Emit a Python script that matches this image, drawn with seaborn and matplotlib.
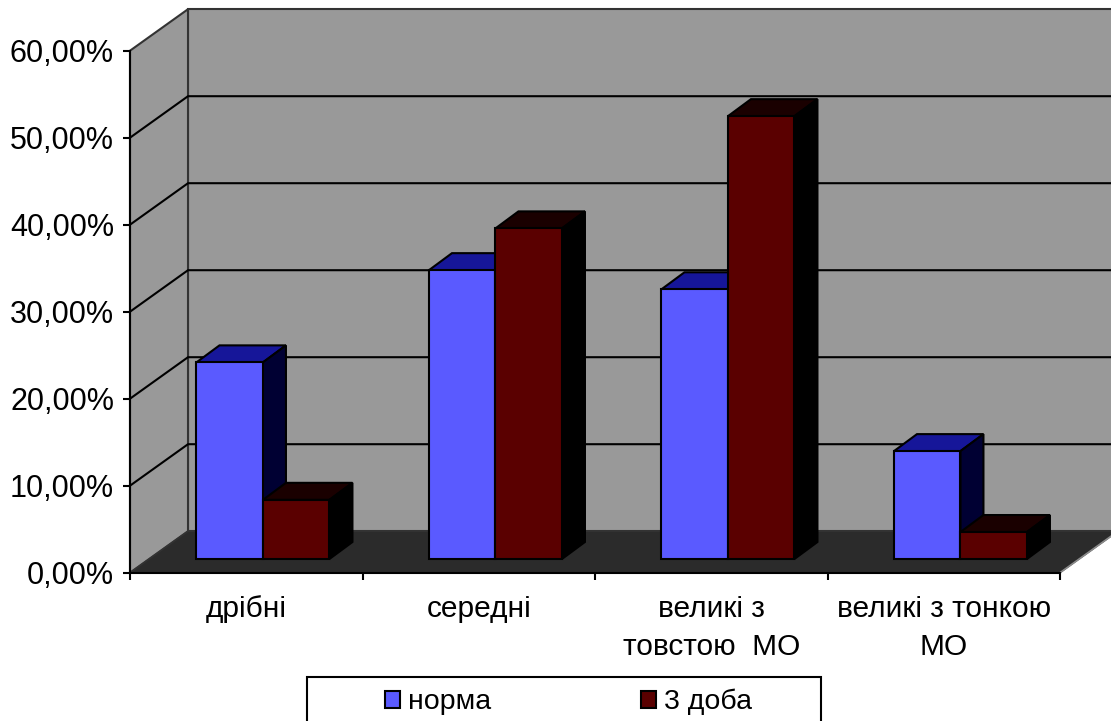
import matplotlib
matplotlib.use("Agg")
import matplotlib.pyplot as plt
from matplotlib.patches import Polygon, Rectangle
import pandas as pd
import seaborn as sns

categories = ["дрібні", "середні", "великі з\nтовстою  МО", "великі з тонкою\nМО"]
norma = [22.6, 33.2, 31.0, 12.4]
doba3 = [6.8, 38.0, 50.9, 3.1]
series_names = ["норма", "3 доба"]
y_ticks = [0, 10, 20, 30, 40, 50, 60]
y_tick_labels = ["0,00%", "10,00%", "20,00%", "30,00%", "40,00%", "50,00%", "60,00%"]

front_colors = ["#5a5aff", "#5a0000"]
top_colors = ["#161699", "#1a0000"]
side_colors = ["#000033", "#000000"]

sns.set_style("white")
plt.rcParams["font.family"] = ["Liberation Sans", "DejaVu Sans"]

W, H = 1111, 721
LINE = 1.5
fig = plt.figure(figsize=(W / 100, H / 100), dpi=100, facecolor="white")
ax = fig.add_axes([130 / W, 1 - 572.7 / H, 930 / W, 522 / H])

table = pd.DataFrame({
    "category": categories * 2,
    "series": [series_names[0]] * 4 + [series_names[1]] * 4,
    "value": norma + doba3,
})
sns.barplot(data=table, x="category", y="value", hue="series", palette=front_colors,
            saturation=1, width=0.572, gap=0, edgecolor="black", linewidth=LINE,
            legend=False, ax=ax, zorder=10)

ax.set_xlim(-0.5, 3.5)
ax.set_ylim(0, 60)
ax.set_xlabel("")
ax.set_ylabel("")

# Oblique projection: wall depth and bar depth, in data units.
px_x = 4 / 930
px_y = 60 / 522
wall_dx, wall_dy = 58 * px_x, 41.5 * px_y
bar_dx, bar_dy = 23 * px_x, 17 * px_y
inset_dx, inset_dy = 16.7 * px_x, 13.7 * px_y


def poly(points, **kw):
    kw.setdefault("clip_on", False)
    ax.add_patch(Polygon(points, closed=True, **kw))


x0, x1, y0, y1 = -0.5, 3.5, 0, 60
wall = "#999999"
poly([(x0 + wall_dx, y0 + wall_dy), (x1 + wall_dx, y0 + wall_dy),
      (x1 + wall_dx, y1 + wall_dy), (x0 + wall_dx, y1 + wall_dy)],
     facecolor=wall, edgecolor="#333333", linewidth=LINE, zorder=1)
poly([(x0, y0), (x0 + wall_dx, y0 + wall_dy), (x0 + wall_dx, y1 + wall_dy), (x0, y1)],
     facecolor=wall, edgecolor="#333333", linewidth=LINE, zorder=1.1)
poly([(x0, y0), (x1, y0), (x1 + wall_dx, y0 + wall_dy), (x0 + wall_dx, y0 + wall_dy)],
     facecolor="#2b2b2b", edgecolor="#333333", linewidth=1.0, zorder=3)
ax.plot([x1, x1 + wall_dx], [y0, y0 + wall_dy], color="#8a8a8a", lw=1.2, clip_on=False, zorder=3.2)

for value in y_ticks[1:-1]:
    ax.plot([x0, x0 + wall_dx, x1 + wall_dx], [value, value + wall_dy, value + wall_dy],
            color="black", lw=LINE, clip_on=False, zorder=2)

# Front faces come from seaborn; shift them onto the floor and add top and side faces.
for s, container in enumerate(ax.containers):
    for i, bar in enumerate(container):
        bar.set_x(bar.get_x() + inset_dx)
        bar.set_y(inset_dy)
        bar.set_clip_on(False)
        order = 10 + i * 2 + s * 0.5
        bar.set_zorder(order + 0.2)
        left, right = bar.get_x(), bar.get_x() + bar.get_width()
        bottom, top = bar.get_y(), bar.get_y() + bar.get_height()
        poly([(left, top), (right, top), (right + bar_dx, top + bar_dy), (left + bar_dx, top + bar_dy)],
             facecolor=top_colors[s], edgecolor="black", linewidth=LINE, zorder=order)
        poly([(right, bottom), (right + bar_dx, bottom + bar_dy), (right + bar_dx, top + bar_dy), (right, top)],
             facecolor=side_colors[s], edgecolor="black", linewidth=LINE, zorder=order)

sns.despine(ax=ax, top=True, right=True)
ax.patch.set_visible(False)
for name in ("left", "bottom"):
    ax.spines[name].set_linewidth(LINE)
    ax.spines[name].set_color("black")
    ax.spines[name].set_zorder(4)

ax.set_yticks(y_ticks, y_tick_labels)
ax.tick_params(axis="y", left=True, length=5, width=LINE, color="black", labelsize=22, pad=6.5, labelcolor="black")
ax.set_xticks([-0.5, 0.5, 1.5, 2.5, 3.5], [""] * 5)
ax.set_xticks([0, 1, 2, 3], categories, minor=True)
ax.tick_params(axis="x", which="major", bottom=True, length=5, width=LINE, color="black")
ax.tick_params(axis="x", which="minor", bottom=False, length=0, labelsize=21.5, pad=16, labelcolor="black")
for label in ax.get_xticklabels(minor=True):
    label.set_linespacing(1.45)
    label.set_ha("center")

# Legend box runs past the lower edge of the figure.
fig.add_artist(Rectangle((307 / W, 1 - 740 / H), 514 / W, 63 / H, transform=fig.transFigure,
                         facecolor="white", edgecolor="black", linewidth=LINE))
handles = [Rectangle((0, 0), 1, 1, facecolor=c, edgecolor="black", linewidth=LINE) for c in front_colors]
fig.legend(handles, series_names, loc="center left", bbox_to_anchor=(385 / W, 1 - 702 / H),
           ncol=2, frameon=False, fontsize=20.5, labelcolor="black", handlelength=0.53, handleheight=0.53,
           handletextpad=0.28, columnspacing=5.26, borderpad=0, borderaxespad=0)

fig.savefig("out.png", dpi=100, facecolor="white")
